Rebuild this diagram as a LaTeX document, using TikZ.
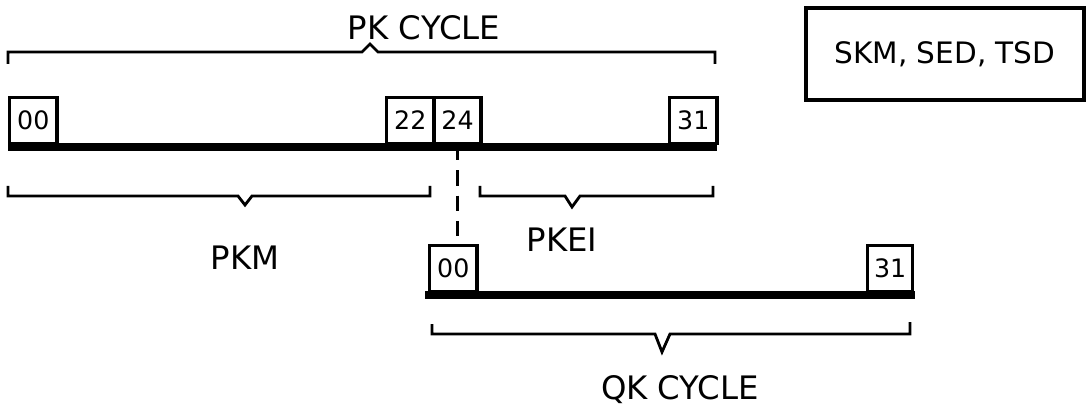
\documentclass[tikz,border=0pt]{standalone}
\usepackage{fontspec}
\setmainfont{DejaVu Sans}
\usetikzlibrary{positioning}

\begin{document}
\begin{tikzpicture}[
  x=0.025cm, y=-0.025cm,
  every node/.style={font=\fontsize{23}{26}\selectfont},
  slot/.style={
    draw, line width=2.4pt, anchor=south west,
    minimum width=1.18cm, minimum height=1.15cm,
    inner sep=1pt, font=\fontsize{18}{20}\selectfont
  },
  bar/.style={line width=5.5pt},
  span/.style={line width=2pt},
  link/.style={line width=2.4pt, dash pattern=on 11pt off 7pt},
]
\useasboundingbox (0,0) rectangle (1091,413);

% PK cycle
\draw[bar] (8,147) -- (717,147);
\node[slot] (pk00) at (8,145) {00};
\node[slot] (pk22) at (385,145) {22};
\node[slot, right=-2.4pt of pk22] (pk24) {24};
\node[slot] (pk31) at (668,145) {31};

\draw[span] (8,64) -- (8,52) -- (362,52) -- (370,44) -- (378,52) -- (715,52) -- (715,64);
\node (pkcycle) at (424,28) {PK CYCLE};

% PKM and PKEI spans
\draw[span] (8,186) -- (8,196) -- (238,196) -- (245,205) -- (252,196) -- (430,196) -- (430,186);
\node (pkm) at (245,258) {PKM};
\draw[span] (480,186) -- (480,196) -- (565,196) -- (572,207) -- (580,196) -- (713,196) -- (713,186);
\node (pkei) at (562,240) {PKEI};

% QK cycle
\draw[bar] (425,295) -- (915,295);
\node[slot] (qk00) at (428,293) {00};
\node[slot, minimum width=1.12cm] (qk31) at (866,293) {31};

\draw[span] (432,324) -- (432,334) -- (655,334) -- (662,352) -- (670,334) -- (910,334) -- (910,322);
\node (qkcycle) at (680,390) {QK CYCLE};

% link between cycles
\draw[link] (pk24.south) -- (pk24.south |- qk00.north);

% legend
\node[draw, line width=2.6pt, minimum width=6.95cm, minimum height=2.3cm,
  font=\fontsize{21}{24}\selectfont] (legend) at (945,54) {SKM, SED, TSD};

\end{tikzpicture}
\end{document}
